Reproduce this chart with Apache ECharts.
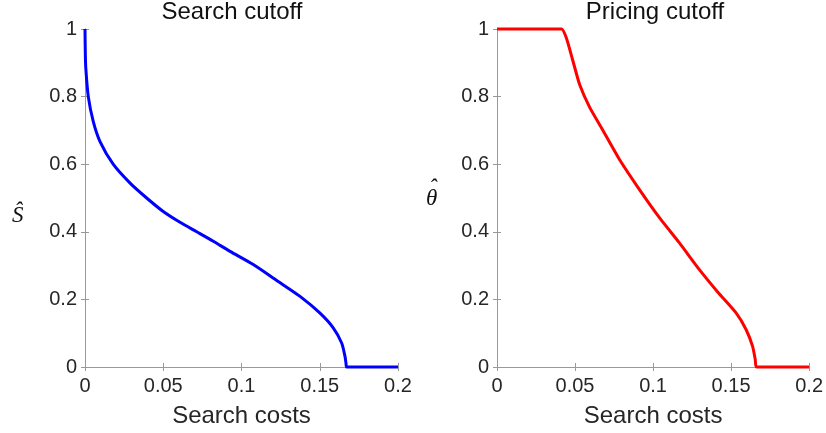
<!DOCTYPE html>
<html>
<head>
<meta charset="utf-8">
<script src="https://cdn.jsdelivr.net/npm/echarts@6/dist/echarts.min.js"></script>
<style>
html,body{margin:0;padding:0;background:#fff;}
#chart{width:826px;height:433px;}
</style>
</head>
<body>
<div id="chart"></div>
<script>
// ---- data ----
const xTicks = [0, 0.05, 0.1, 0.15, 0.2];
const yTicks = [0, 0.2, 0.4, 0.6, 0.8, 1];

const costsS = [0, 0.0002, 0.0005, 0.0021, 0.0053, 0.0096, 0.018, 0.0288, 0.0394, 0.05, 0.0607, 0.0714, 0.082, 0.0927, 0.1075, 0.1225, 0.1374, 0.150, 0.1586, 0.164, 0.1661, 0.1668, 0.1671, 0.2];
const sHat   = [1, 0.93, 0.885, 0.80, 0.726, 0.667, 0.60, 0.544, 0.50, 0.46, 0.428, 0.40, 0.372, 0.342, 0.303, 0.256, 0.209, 0.16, 0.116, 0.071, 0.032, 0.01, 0, 0];

const costsP   = [0, 0.0413, 0.0445, 0.0488, 0.053, 0.0594, 0.0669, 0.0786, 0.0914, 0.1042, 0.1169, 0.1297, 0.1414, 0.1532, 0.1596, 0.1638, 0.1655, 0.1663, 0.2];
const thetaHat = [1, 1, 0.9725, 0.903, 0.835, 0.768, 0.708, 0.613, 0.524, 0.441, 0.367, 0.288, 0.222, 0.16, 0.111, 0.061, 0.022, 0, 0];

const titles = ['Search cutoff', 'Pricing cutoff'];
const xName = 'Search costs';

// ---- chart ----
const FONT = 'Liberation Sans, Arial, Helvetica, sans-serif';
const TXT = '#262626';
const AX = '#999999';
const SERIF = 'italic 23px "Liberation Serif", "DejaVu Serif", serif';

function pairs(xs, ys){ return xs.map((x,i)=>[x, ys[i]]); }

const grids = [
  {left: 85, top: 29, width: 313, height: 339},
  {left: 497, top: 29, width: 313, height: 339}
];

function xAxisMain(gi){
  return {
    type:'value', gridIndex:gi, min:xTicks[0], max:xTicks[xTicks.length-1], interval:0.05,
    name:xName, nameLocation:'middle', nameGap:37,
    nameTextStyle:{fontFamily:FONT, fontSize:24, color:TXT},
    axisLine:{show:true, lineStyle:{color:AX, width:1}},
    axisTick:{show:true, inside:true, length:4, lineStyle:{color:AX}},
    axisLabel:{fontFamily:FONT, fontSize:20, color:TXT, margin:9},
    splitLine:{show:false}
  };
}
function xAxisTop(gi){
  return {
    type:'value', gridIndex:gi, position:'top', min:xTicks[0], max:xTicks[xTicks.length-1], interval:0.05,
    axisLine:{show:true, lineStyle:{color:AX, width:1}},
    axisTick:{show:true, inside:true, length:4, lineStyle:{color:AX}},
    axisLabel:{show:false}, splitLine:{show:false}
  };
}
function yAxisMain(gi){
  return {
    type:'value', gridIndex:gi, min:yTicks[0], max:yTicks[yTicks.length-1], interval:0.2,
    axisLine:{show:true, lineStyle:{color:AX, width:1}},
    axisTick:{show:true, inside:true, length:4, lineStyle:{color:AX}},
    axisLabel:{fontFamily:FONT, fontSize:20, color:TXT, margin:8},
    splitLine:{show:false}
  };
}
function yAxisRight(gi){
  return {
    type:'value', gridIndex:gi, position:'right', min:yTicks[0], max:yTicks[yTicks.length-1], interval:0.2,
    axisLine:{show:true, lineStyle:{color:AX, width:1}},
    axisTick:{show:true, inside:true, length:4, lineStyle:{color:AX}},
    axisLabel:{show:false}, splitLine:{show:false}
  };
}

const chart = echarts.init(document.getElementById('chart'), null, {renderer:'canvas'});
chart.setOption({
  animation:false,
  backgroundColor:'#ffffff',
  title:[
    {text:titles[0], left:232, top:0, textAlign:'center', padding:0,
     textStyle:{fontFamily:FONT, fontSize:24, fontWeight:'normal', color:'#111'}},
    {text:titles[1], left:655, top:0, textAlign:'center', padding:0,
     textStyle:{fontFamily:FONT, fontSize:24, fontWeight:'normal', color:'#111'}}
  ],
  grid:grids,
  xAxis:[xAxisMain(0), xAxisTop(0), xAxisMain(1), xAxisTop(1)],
  yAxis:[yAxisMain(0), yAxisRight(0), yAxisMain(1), yAxisRight(1)],
  series:[
    {type:'line', xAxisIndex:0, yAxisIndex:0, data:pairs(costsS, sHat), showSymbol:false, clip:false,
     smooth:0.25, lineStyle:{color:'#0000ff', width:3}},
    {type:'line', xAxisIndex:2, yAxisIndex:2, data:pairs(costsP, thetaHat), showSymbol:false, clip:false,
     smooth:0.2, lineStyle:{color:'#ff0000', width:3}}
  ],
  graphic:[
    {type:'text', left:12, top:204, style:{text:'\u015C', font:SERIF, fill:'#111'}},
    {type:'text', left:426, top:187, style:{text:'\u03B8', font:SERIF, fill:'#111'}},
    {type:'text', left:429, top:177, style:{text:'\u02C6', font:SERIF, fill:'#111'}}
  ]
});
</script>
</body>
</html>
